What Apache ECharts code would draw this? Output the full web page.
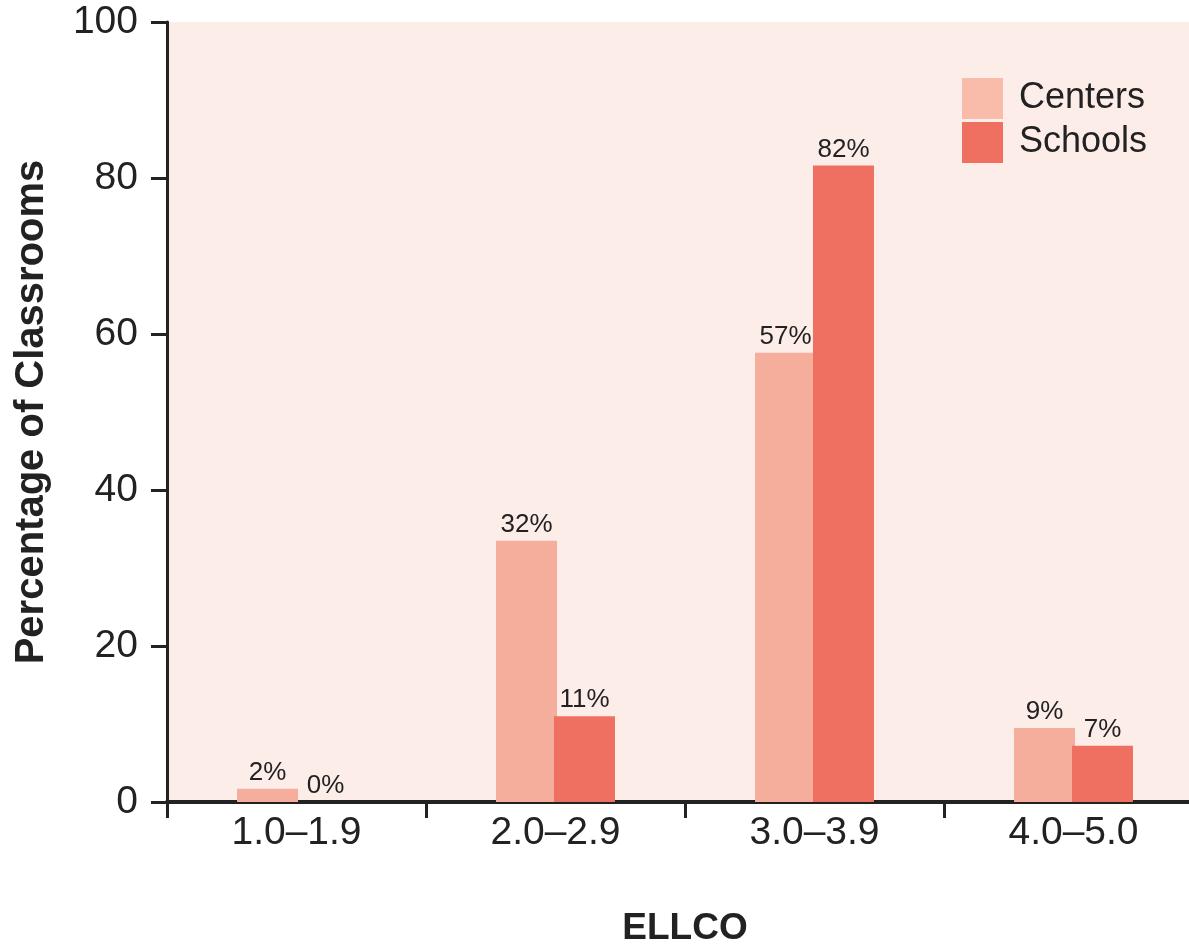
<!DOCTYPE html>
<html><head><meta charset="utf-8">
<script src="https://cdn.jsdelivr.net/npm/echarts@6/dist/echarts.min.js"></script>
<style>html,body{margin:0;padding:0;background:#fff}#c{width:1189px;height:945px}</style>
</head><body><div id="c"></div>
<script>
const categories = ['1.0–1.9', '2.0–2.9', '3.0–3.9', '4.0–5.0'];
const centersValues = [1.7, 33.5, 57.6, 9.5];
const schoolsValues = [0, 11, 81.6, 7.2];
const centersLabels = ['2%', '32%', '57%', '9%'];
const schoolsLabels = ['0%', '11%', '82%', '7%'];
const yTicks = [0, 20, 40, 60, 80, 100];

const chart = echarts.init(document.getElementById('c'));
const labelStyle = (labels) => ({
  show: true, position: 'top', distance: 3,
  formatter: p => labels[p.dataIndex],
  fontFamily: '"Liberation Sans", sans-serif',
  fontSize: 26, color: '#222'
});
chart.setOption({
  backgroundColor: '#fff',
  animation: false,
  grid: { left: 167, top: 22, bottom: 143, width: 1036, outerBoundsMode: 'none', containLabel: false,
    show: true, backgroundColor: '#FDEDE9', borderWidth: 0 },
  legend: {
    orient: 'vertical', left: 957, top: 73, icon: 'rect',
    itemWidth: 41, itemHeight: 41, itemGap: 3,
    textStyle: { fontFamily: '"Liberation Sans", sans-serif', fontSize: 36, color: '#222', padding: [0, 0, 0, 11] },
    data: [
      { name: 'Centers', itemStyle: { color: '#F9BBAA' } },
      { name: 'Schools', itemStyle: { color: '#EF6F60' } }
    ]
  },
  xAxis: {
    type: 'category', data: categories,
    name: 'ELLCO', nameLocation: 'middle', nameGap: 108,
    nameTextStyle: { fontFamily: '"Liberation Sans", sans-serif', fontWeight: 'bold', fontSize: 37, color: '#222' },
    axisLine: { lineStyle: { color: '#222', width: 4 } },
    axisTick: { show: true, length: 16, lineStyle: { color: '#222', width: 3 } },
    axisLabel: { margin: 12, fontFamily: '"Liberation Sans", sans-serif', fontSize: 39, color: '#222' }
  },
  yAxis: {
    type: 'value', min: 0, max: 100, interval: 20,
    name: 'Percentage of Classrooms', nameLocation: 'middle', nameGap: 115,
    nameTextStyle: { fontFamily: '"Liberation Sans", sans-serif', fontWeight: 'bold', fontSize: 40, color: '#222' },
    axisLine: { show: true, lineStyle: { color: '#222', width: 3 } },
    axisTick: { show: true, length: 16, lineStyle: { color: '#222', width: 3 } },
    splitLine: { show: false },
    axisLabel: { margin: 29, fontFamily: '"Liberation Sans", sans-serif', fontSize: 39, color: '#222',
      formatter: v => yTicks.includes(v) ? String(v) : '' }
  },
  series: [
    { name: 'Centers', type: 'bar', data: centersValues, barWidth: 61, barGap: '-5%',
      itemStyle: { color: '#F5AE9B' }, label: labelStyle(centersLabels) },
    { name: 'Schools', type: 'bar', data: schoolsValues, barWidth: 61,
      itemStyle: { color: '#EF6F60' }, label: labelStyle(schoolsLabels) }
  ]
});
</script></body></html>
